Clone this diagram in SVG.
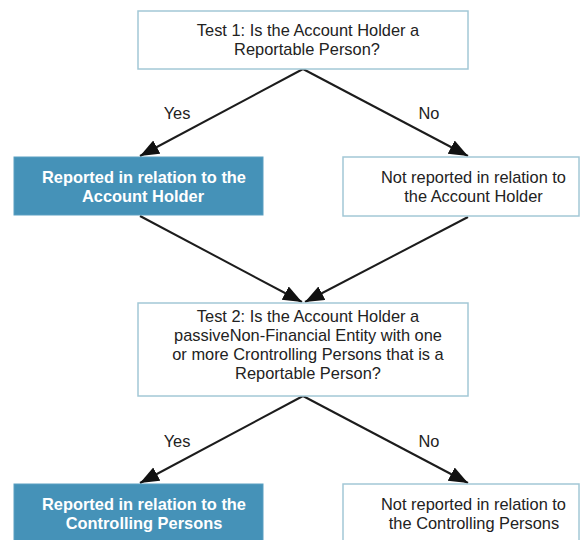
<svg xmlns="http://www.w3.org/2000/svg" width="581" height="540" viewBox="0 0 581 540">
  <style>
    .box { fill: #ffffff; stroke: #a3c8d6; stroke-width: 1.5; }
    .hit { fill: #4592b8; stroke: #5a9fc2; stroke-width: 1; }
    .t { font-family: "Liberation Sans", Arial, Helvetica, sans-serif; font-size: 16.4px; fill: #222222; text-anchor: middle; }
    .tw { font-family: "Liberation Sans", Arial, Helvetica, sans-serif; font-size: 16.4px; font-weight: bold; fill: #ffffff; text-anchor: middle; }
    .edge { fill: none; stroke: #1c1c1c; stroke-width: 2; marker-end: url(#head); }
  </style>
  <defs>
    <marker id="head" markerUnits="userSpaceOnUse" markerWidth="20" markerHeight="16" refX="19" refY="7.5" orient="auto">
      <path d="M0,0 L19,7.5 L0,15 z" fill="#111111"/>
    </marker>
  </defs>
  <rect width="581" height="540" fill="#ffffff"/>

  <g id="connectors">
    <polyline class="edge" points="303,69 140,156"/>
    <polyline class="edge" points="303,69 468,156"/>
    <polyline class="edge" points="140,216 302,302"/>
    <polyline class="edge" points="468,217 305,302"/>
    <polyline class="edge" points="303,396 140,483"/>
    <polyline class="edge" points="303,396 468,483"/>
    <text class="t" x="177" y="119">Yes</text>
    <text class="t" x="429" y="119">No</text>
    <text class="t" x="177" y="447">Yes</text>
    <text class="t" x="429" y="447">No</text>
  </g>

  <g id="test1">
    <rect class="box" x="138" y="11" width="330" height="58"/>
    <text class="t" x="308" y="36">Test 1: Is the Account Holder a</text>
    <text class="t" x="307" y="55">Reportable Person?</text>
  </g>

  <g id="reported-holder">
    <rect class="hit" x="14" y="157" width="249" height="58"/>
    <text class="tw" x="144" y="183">Reported in relation to the</text>
    <text class="tw" x="143" y="202">Account Holder</text>
  </g>

  <g id="not-reported-holder">
    <rect class="box" x="343" y="157" width="236" height="59"/>
    <text class="t" x="473.5" y="183">Not reported in relation to</text>
    <text class="t" x="473.5" y="202">the Account Holder</text>
  </g>

  <g id="test2">
    <rect class="box" x="138" y="303" width="330" height="93"/>
    <text class="t" x="308" y="322">Test 2: Is the Account Holder a</text>
    <text class="t" x="308" y="341">passiveNon-Financial Entity with one</text>
    <text class="t" x="308" y="360">or more Crontrolling Persons that is a</text>
    <text class="t" x="308" y="379">Reportable Person?</text>
  </g>

  <g id="reported-controlling">
    <rect class="hit" x="14" y="484" width="249" height="60"/>
    <text class="tw" x="144" y="510">Reported in relation to the</text>
    <text class="tw" x="144" y="529">Controlling Persons</text>
  </g>

  <g id="not-reported-controlling">
    <rect class="box" x="343" y="484" width="236" height="60"/>
    <text class="t" x="473.5" y="510">Not reported in relation to</text>
    <text class="t" x="474" y="529">the Controlling Persons</text>
  </g>
</svg>
